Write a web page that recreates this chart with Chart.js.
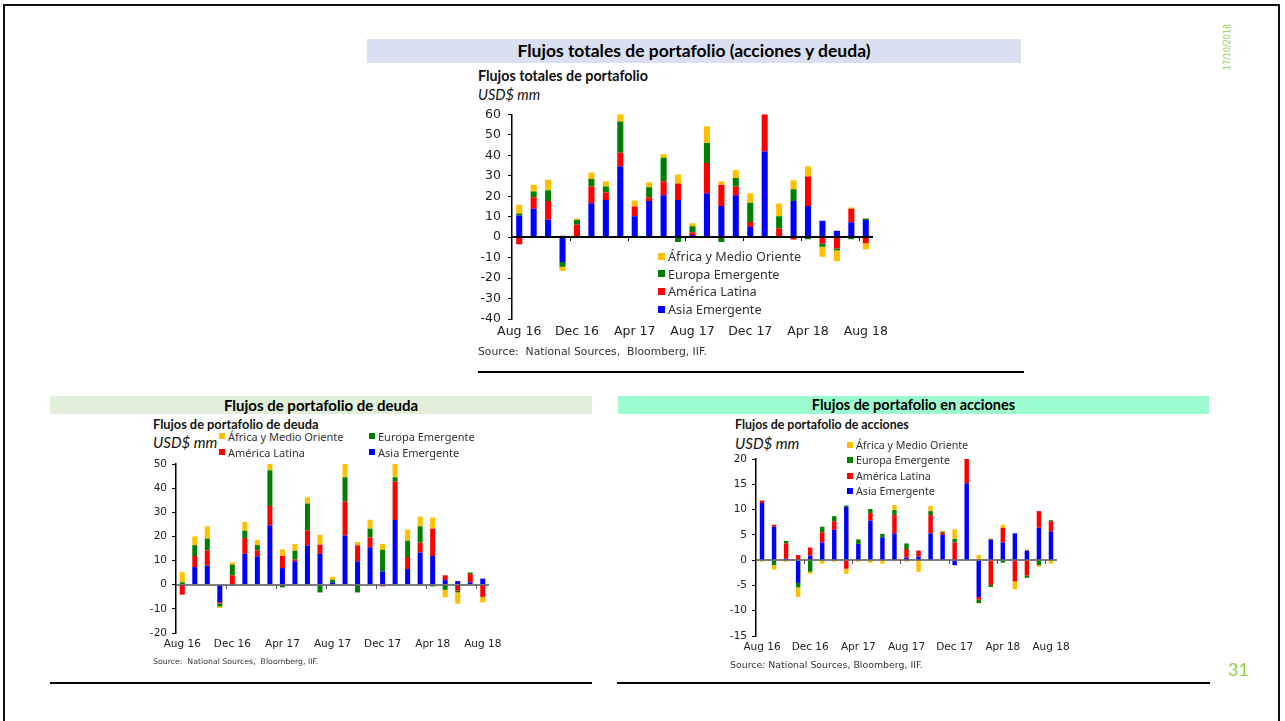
<!DOCTYPE html>
<html>
<head>
<meta charset="utf-8">
<script src="https://cdn.jsdelivr.net/npm/chart.js@4.4.1/dist/chart.umd.min.js"></script>
<style>
  body { margin: 0; width: 1285px; height: 721px; background: #fff; position: relative; overflow: hidden; font-family: "DejaVu Sans", sans-serif; }
  .abs { position: absolute; white-space: nowrap; }
  .frame { left: 3px; top: 4px; width: 1277px; height: 740px; border: 2px solid #111; box-sizing: border-box; }
  .band { font-family: Lato, sans-serif; font-weight: 700; color: #000; text-align: center; }
  .ttl { font-family: Lato, sans-serif; font-weight: 700; color: #111; }
  .unit { font-family: Lato, sans-serif; font-style: italic; color: #111; }
  .src { color: #333; }
  .rule { background: #000; height: 2px; }
  .leg { font-family: "Noto Sans", sans-serif; color: #333; display: flex; align-items: center; }
  .leg i { display: inline-block; margin-right: 3px; }
  canvas { position: absolute; }
</style>
</head>
<body>
<div class="abs frame"></div>

<!-- top block -->
<div class="abs band" style="left:367px;top:39px;width:654px;height:24px;line-height:24px;font-size:17.5px;background:#dae0f1;">Flujos totales de portafolio (acciones y deuda)</div>
<div class="abs ttl" style="left:478px;top:68px;height:16px;line-height:16px;font-size:14.3px;">Flujos totales de portafolio</div>
<div class="abs unit" style="left:478px;top:87px;height:16px;line-height:16px;font-size:14.5px;">USD$ mm</div>
<canvas id="totales" width="430" height="250" style="left:470px;top:100px;"></canvas>
<div id="legTop"></div>
<div class="abs src" style="left:478px;top:345px;height:14px;line-height:14px;font-size:10.8px;">Source:&nbsp; National Sources,&nbsp; Bloomberg, IIF.</div>
<div class="abs rule" style="left:478px;top:371px;width:546px;"></div>

<!-- bottom left -->
<div class="abs band" style="left:50px;top:396px;width:542px;height:18px;line-height:18px;font-size:15px;background:#e2efda;">Flujos de portafolio de deuda</div>
<div class="abs ttl" style="left:153px;top:417px;height:14px;line-height:14px;font-size:12.8px;">Flujos de portafolio de deuda</div>
<div class="abs unit" style="left:153px;top:434px;height:16px;line-height:16px;font-size:15px;">USD$ mm</div>
<canvas id="deuda" width="380" height="206" style="left:130px;top:452px;"></canvas>
<div id="legDeuda"></div>
<div class="abs src" style="left:153px;top:657px;height:10px;line-height:10px;font-size:7.8px;">Source:&nbsp; National Sources,&nbsp; Bloomberg, IIF.</div>
<div class="abs rule" style="left:50px;top:682px;width:542px;"></div>

<!-- bottom right -->
<div class="abs band" style="left:618px;top:396px;width:591px;height:18px;line-height:18px;font-size:14.5px;background:#9cfccf;">Flujos de portafolio en acciones</div>
<div class="abs ttl" style="left:735px;top:418px;height:14px;line-height:14px;font-size:12.4px;">Flujos de portafolio de acciones</div>
<div class="abs unit" style="left:735px;top:435px;height:16px;line-height:16px;font-size:15px;">USD$ mm</div>
<canvas id="acciones" width="370" height="214" style="left:710px;top:447px;"></canvas>
<div id="legAcc"></div>
<div class="abs src" style="left:730px;top:659px;height:12px;line-height:12px;font-size:9.4px;">Source: National Sources, Bloomberg, IIF.</div>
<div class="abs rule" style="left:617px;top:682px;width:593px;"></div>

<!-- slide furniture -->
<div class="abs" style="left:1208px;top:45px;width:40px;height:10px;line-height:10px;font-size:8px;color:#92d050;text-align:center;transform:rotate(-90deg);">17/10/2018</div>
<div class="abs" style="left:1228px;top:659px;height:20px;line-height:20px;font-family:Lato,sans-serif;font-size:18px;color:#8fce4f;">31</div>

<script>
  const months = ["Aug 16", "Sep 16", "Oct 16", "Nov 16", "Dec 16", "Jan 17", "Feb 17", "Mar 17", "Apr 17",
    "May 17", "Jun 17", "Jul 17", "Aug 17", "Sep 17", "Oct 17", "Nov 17", "Dec 17", "Jan 18", "Feb 18",
    "Mar 18", "Apr 18", "May 18", "Jun 18", "Jul 18", "Aug 18"];

  const seriesNames = ["Asia Emergente", "América Latina", "Europa Emergente", "África y Medio Oriente"];
  const seriesColors = ["#0000ff", "#ff0000", "#008000", "#ffc000"];

  // Flujos totales (acciones y deuda)
  const asiaTot = [10.6, 13.9, 8.5, -12.1, 0.6, 16.6, 18.2, 34.7, 10.3, 17.7, 20.5, 18.2, 1.1, 21.5, 15.2, 20.5, 5.0, 41.9, -0.3, 17.7, 15.2, 8.1, 3.1, 7.3, 8.4];
  const latamTot = [-3.5, 5.6, 9.2, 0.7, 5.5, 8.2, 3.7, 6.6, 4.7, 1.8, 6.9, 8.1, 1.3, 14.8, 10.3, 4.3, 2.4, 18.6, 4.2, -1.1, 14.5, -3.1, -5.5, 6.6, -2.9];
  const europaTot = [1.0, 2.9, 5.2, -2.3, 2.3, 3.7, 2.9, 15.3, 0, 4.9, 11.5, -2.3, 2.9, 9.8, -2.3, 4.2, 9.5, 0, 6.0, 5.8, -1.0, -1.6, -1.0, -1.0, 0.8];
  const africaTot = [4.2, 3.2, 5.2, -2.1, 0.8, 3.1, 2.6, 3.9, 2.9, 2.5, 1.7, 4.3, 1.5, 8.1, 1.9, 3.9, 4.6, 0, 6.3, 4.4, 5.0, -4.8, -5.1, 0.6, -3.1];

  // Deuda
  const asiaDeu = [0.3, 7.3, 7.9, -7.2, -0.5, 12.8, 11.7, 24.6, 6.9, 9.7, 16.3, 12.8, 1.0, 20.4, 9.7, 15.5, 5.5, 26.8, 6.5, 13.3, 11.9, 1.9, 1.5, 1.0, 2.5];
  const latamDeu = [-4.1, 4.6, 6.3, -0.5, 3.9, 6.5, 2.5, 8.0, 5.0, 0.7, 6.2, 3.8, -0.5, 14.1, 6.6, 4.1, -0.7, 16.0, 5.0, 4.1, 11.3, 2.0, -2.5, 3.4, -5.0];
  const europaDeu = [0.7, 4.5, 4.9, -1.3, 4.4, 3.1, 2.2, 14.8, -1.1, 3.7, 11.1, -3.2, 1.1, 10.0, -3.2, 3.6, 9.0, 1.7, 6.7, 6.8, -0.7, -2.1, -0.7, 0.6, -0.2];
  const africaDeu = [4.2, 3.6, 5.1, -0.7, 1.0, 3.6, 2.2, 3.2, 2.7, 2.8, 2.6, 4.1, 1.2, 6.1, 1.4, 3.7, 2.4, 5.8, 4.6, 4.0, 4.6, -3.1, -4.7, 0.2, -2.1];

  // Acciones
  const asiaAcc = [11.3, 6.6, 0.3, -4.5, 0.9, 3.5, 6.0, 10.5, 3.2, 7.8, 4.5, 5.3, 0.5, 0.7, 5.3, 5.0, -1.0, 15.2, -7.3, 4.1, 3.5, 5.3, 1.9, 6.4, 5.7];
  const latamAcc = [0.5, 0.4, 3.0, 1.0, 1.6, 2.0, 1.7, -1.7, 0, 1.5, 0, 3.6, 1.7, 1.2, 3.6, 0.4, 3.5, 4.9, -0.5, -4.9, 2.9, -4.2, -3.0, 3.3, 2.0];
  const europaAcc = [0, -1.0, 0.5, -0.9, -2.3, 1.1, 1.0, 0.3, 0.9, 0.8, 0.7, 1.0, 1.1, 0, 0.8, 0.2, 0.7, 0.2, -0.7, -0.4, -0.5, 0, -0.5, -1.0, 0.2];
  const africaAcc = [-0.3, -0.9, -0.3, -1.9, -0.4, -0.7, -0.3, -1.0, -0.3, -0.5, -0.7, 1.0, -0.3, -2.3, 1.0, 0.2, 1.9, 0, 1.0, 0.2, 0.6, -1.6, 0.2, -0.3, -0.7];

  Chart.defaults.font.family = "'DejaVu Sans', sans-serif";
  Chart.defaults.color = "#333";

  // zero line drawn over the bars, with small ticks every 4 months
  const zeroAxis = {
    id: "zeroAxis",
    afterDatasetsDraw(chart, args, opts) {
      const { ctx, chartArea } = chart;
      const x = chart.scales.x, y = chart.scales.y;
      const y0 = Math.round(y.getPixelForValue(0));
      ctx.save();
      ctx.strokeStyle = opts.color;
      ctx.lineWidth = opts.width;
      ctx.beginPath();
      ctx.moveTo(chartArea.left, y0);
      ctx.lineTo(chartArea.right, y0);
      ctx.stroke();
      ctx.lineWidth = 1;
      ctx.beginPath();
      for (let i = 4; i < chart.data.labels.length; i += 4) {
        const px = Math.round((x.getPixelForValue(i - 1) + x.getPixelForValue(i)) / 2) + 0.5;
        ctx.moveTo(px, y0);
        ctx.lineTo(px, y0 + 4);
      }
      ctx.stroke();
      ctx.restore();
    },
  };

  function flowChart(id, series, o) {
    return new Chart(document.getElementById(id), {
      type: "bar",
      data: {
        labels: months,
        datasets: series.map((d, i) => ({
          label: seriesNames[i],
          data: d,
          backgroundColor: seriesColors[i],
          borderWidth: 0,
          barPercentage: o.barPct,
          categoryPercentage: 1,
        })),
      },
      options: {
        responsive: false,
        animation: false,
        layout: { padding: { top: 12, right: o.padRight, left: 0, bottom: 0 } },
        plugins: {
          legend: { display: false },
          tooltip: { enabled: false },
          zeroAxis: { color: o.zeroColor, width: o.zeroWidth },
        },
        scales: {
          x: {
            stacked: true,
            afterFit: (s) => { s.height = o.xHeight; },
            border: { display: false },
            grid: { display: false, drawTicks: false },
            ticks: {
              autoSkip: false, maxRotation: 0, minRotation: 0, padding: o.xPad,
              color: "#222", font: { size: o.font },
              callback: (v, i) => (i % 4 === 0 ? months[i] : ""),
            },
          },
          y: {
            stacked: true,
            min: o.min,
            max: o.max,
            afterFit: (s) => { s.width = o.yWidth; },
            border: { display: true, color: "#000", width: 1.5 },
            grid: { drawOnChartArea: false, drawTicks: true, tickLength: 4, tickColor: "#000", color: "#000" },
            ticks: { stepSize: o.step, padding: o.yPad, color: "#222", font: { size: o.font } },
          },
        },
      },
      plugins: [zeroAxis],
    });
  }

  function legend(hostId, items, x, y, rowGap, colGap, cols, size, sq) {
    const host = document.getElementById(hostId);
    items.forEach((idx, k) => {
      const r = Math.floor(k / cols), c = k % cols;
      const el = document.createElement("div");
      el.className = "abs leg";
      el.style.left = x + c * colGap + "px";
      el.style.top = y + r * rowGap - 8 + "px";
      el.style.height = "16px";
      el.style.fontSize = size + "px";
      el.innerHTML = '<i style="width:' + sq + "px;height:" + sq + "px;background:" + seriesColors[idx] + '"></i>' + seriesNames[idx];
      host.appendChild(el);
    });
  }

  flowChart("totales", [asiaTot, latamTot, europaTot, africaTot], {
    min: -40, max: 60, step: 10, font: 12.5, yWidth: 42, xHeight: 31, padRight: 27,
    xPad: 5, yPad: 7, barPct: 0.42, zeroColor: "#000", zeroWidth: 2,
  });
  flowChart("deuda", [asiaDeu, latamDeu, europaDeu, africaDeu], {
    min: -20, max: 50, step: 10, font: 10.5, yWidth: 46, xHeight: 25, padRight: 21,
    xPad: 5, yPad: 5, barPct: 0.4, zeroColor: "#555", zeroWidth: 1.5,
  });
  flowChart("acciones", [asiaAcc, latamAcc, europaAcc, africaAcc], {
    min: -15, max: 20, step: 5, font: 10.5, yWidth: 46, xHeight: 25, padRight: 23,
    xPad: 5, yPad: 5, barPct: 0.37, zeroColor: "#555", zeroWidth: 1.5,
  });

  legend("legTop", [3, 2, 1, 0], 658, 256, 17.7, 0, 1, 12.7, 7);
  legend("legDeuda", [3, 2, 1, 0], 219, 436, 16, 150, 2, 11, 6);
  legend("legAcc", [3, 2, 1, 0], 847, 445, 15.4, 0, 1, 10.7, 6);
</script>
</body>
</html>
